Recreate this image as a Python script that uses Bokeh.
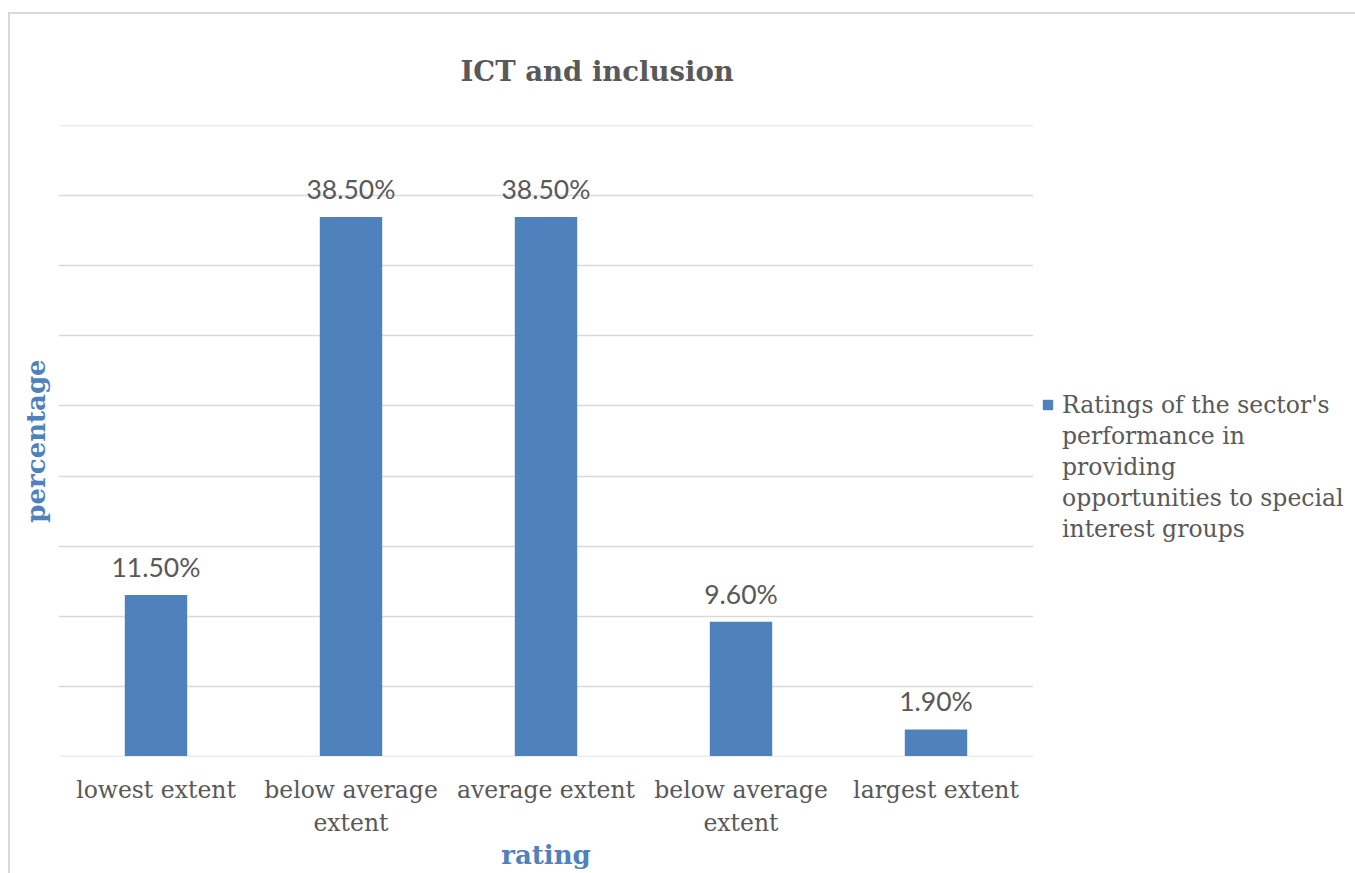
from bokeh.plotting import figure
from bokeh.layouts import row
from bokeh.models import (ColumnDataSource, FixedTicker, Range1d, LabelSet,
                          Legend, LegendItem, Title)
from bokeh.core.properties import value
from bokeh.embed import file_html
from bokeh.resources import INLINE

# --- data ---
categories = ["lowest extent", "below average\nextent", "average extent",
              "below average\nextent", "largest extent"]
values = [11.5, 38.5, 38.5, 9.6, 1.9]
series_lines = ["Ratings of the sector's", "performance in", "providing",
                "opportunities to special", "interest groups"]
y_ticks = [0, 5, 10, 15, 20, 25, 30, 35, 40, 45]
title_text = "ICT and inclusion"
x_title = "rating"
y_title = "percentage"

BAR = "#4F81BD"
TEXT = "#595959"
GRID = "#d9d9d9"
SERIF = "DejaVu Serif"
SANS = "Lato"

positions = list(range(1, len(categories) + 1))
src = ColumnDataSource(dict(
    x=positions,
    top=values,
    label=[f"{v:.2f}%" for v in values],
))

# ---------- main bar chart ----------
p = figure(width=1028, height=859, output_backend="svg", toolbar_location=None,
           x_range=Range1d(0.5, len(categories) + 0.5),
           y_range=Range1d(-0.03, 45.03),
           min_border_left=48, min_border_right=5, min_border_top=111,
           min_border_bottom=116)
p.outline_line_color = None
p.background_fill_color = "white"
p.border_fill_color = "white"

bars = p.vbar(x="x", top="top", width=0.32, bottom=0, source=src,
              fill_color=BAR, line_color=None)

# horizontal gridlines every 5 %
p.xgrid.visible = False
p.ygrid.ticker = FixedTicker(ticks=y_ticks)
p.ygrid.grid_line_color = GRID
p.ygrid.grid_line_width = 1.5

# x axis: category names under each bar
p.xaxis.ticker = FixedTicker(ticks=positions)
p.xaxis.major_label_overrides = {pos: cat for pos, cat in zip(positions, categories)}
p.xaxis.axis_line_color = None
p.xaxis.major_tick_line_color = None
p.xaxis.minor_tick_line_color = None
p.xaxis.major_label_text_font = SERIF
p.xaxis.major_label_text_font_size = "23.5px"
p.xaxis.major_label_text_color = TEXT
p.xaxis.major_label_standoff = 13
p.xaxis.axis_label = x_title
p.xaxis.axis_label_text_font = SERIF
p.xaxis.axis_label_text_font_style = "bold"
p.xaxis.axis_label_text_font_size = "26px"
p.xaxis.axis_label_text_color = BAR
p.xaxis.axis_label_standoff = 0

# y axis: only its title is shown
p.yaxis.ticker = FixedTicker(ticks=[])
p.yaxis.axis_line_color = None
p.yaxis.major_tick_line_color = None
p.yaxis.minor_tick_line_color = None
p.yaxis.major_label_standoff = 0
p.yaxis.axis_label = y_title
p.yaxis.axis_label_text_font = SERIF
p.yaxis.axis_label_text_font_style = "bold"
p.yaxis.axis_label_text_font_size = "26px"
p.yaxis.axis_label_text_color = BAR
p.yaxis.axis_label_standoff = 8

# value labels above the bars
p.add_layout(LabelSet(x="x", y="top", text="label", source=src,
                      text_align="center", text_baseline="middle", y_offset=28,
                      text_font=value(SANS), text_font_size="26.5px",
                      text_color=TEXT))

# chart title, centred over the whole chart area
p.add_layout(Title(text=title_text, align="left", offset=402, standoff=77,
                   text_font=SERIF, text_font_style="bold",
                   text_font_size="27.5px", text_color=TEXT), "above")

# ---------- legend strip to the right ----------
q = figure(width=317, height=859, output_backend="svg", toolbar_location=None,
           x_range=Range1d(-2, -1), y_range=Range1d(0, 1),
           x_axis_type=None, y_axis_type=None, min_border=0)
q.outline_line_color = None
q.grid.visible = False
q.background_fill_color = "white"
q.border_fill_color = "white"

# same series drawn outside the visible range; only its legend swatch shows
swatch = q.vbar(x="x", top="top", width=0.32, source=src,
                fill_color=BAR, line_color=None)
spacer = q.vbar(x="x", top="top", width=0.32, source=src,
                fill_alpha=0, line_alpha=0)

items = [LegendItem(label=series_lines[0], renderers=[swatch])]
items += [LegendItem(label=line, renderers=[spacer]) for line in series_lines[1:]]
legend = Legend(items=items, location=(3, 212), orientation="vertical",
                label_text_font=SERIF, label_text_font_size="23.5px",
                label_text_color=TEXT, glyph_width=13, glyph_height=13,
                label_height=31, spacing=0, label_standoff=8,
                padding=0, margin=0,
                border_line_color=None, background_fill_alpha=0)
q.add_layout(legend, "center")

layout = row(p, q, spacing=0,
             styles={"margin-left": "8px", "margin-top": "12px",
                     "border-left": f"2px solid {GRID}",
                     "border-top": f"2px solid {GRID}"})

open("out.html", "w").write(file_html(layout, INLINE))
